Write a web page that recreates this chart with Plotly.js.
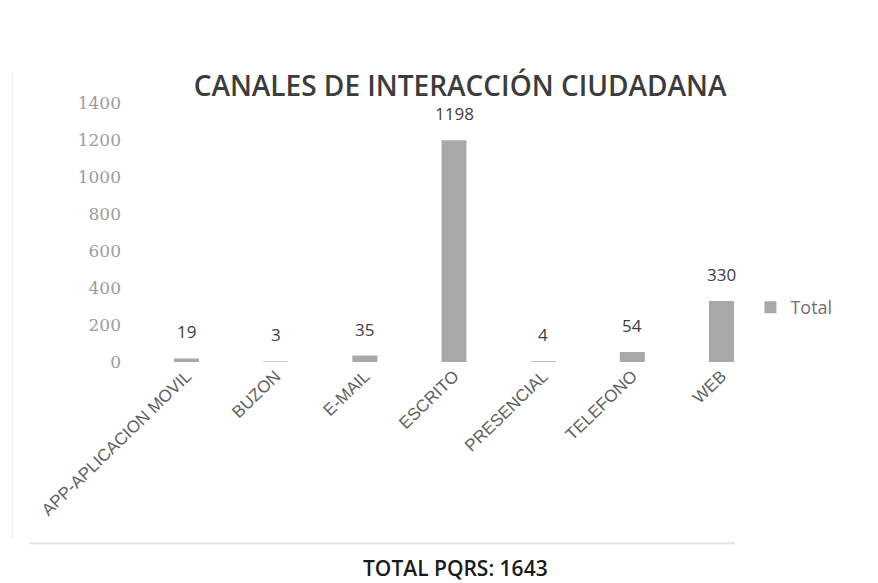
<!DOCTYPE html>
<html><head><meta charset="utf-8">
<script src="https://cdn.plot.ly/plotly-3.0.1.min.js"></script>
<style>html,body{margin:0;padding:0;background:#fff;}#chart{width:878px;height:583px;}</style>
</head><body><div id="chart"></div>
<script>
const categories = ["APP-APLICACION MOVIL","BUZON","E-MAIL","ESCRITO","PRESENCIAL","TELEFONO","WEB"];
const totals = [19, 3, 35, 1198, 4, 54, 330];
const yTicks = [0,200,400,600,800,1000,1200,1400];
const totalPqrs = 1643;

const trace = {
  type: 'bar', x: categories, y: totals, name: 'Total',
  marker: {color: '#a8a8a8'}, width: 0.28, showlegend: true
};
const labelAnns = categories.map((c,i)=>({
  x: c, y: totals[i], xref:'x', yref:'y', text: String(totals[i]), showarrow:false,
  yanchor:'bottom', yshift: 13,
  font:{family:'Open Sans, Liberation Sans, sans-serif', size:17, color:'#404040'}
}));
const layout = {
  width: 878, height: 583,
  margin: {l:142, r:112, t:103, b:221},
  paper_bgcolor:'#fff', plot_bgcolor:'#fff',
  title: {text:'CANALES DE INTERACCIÓN CIUDADANA', xref:'container', x:0.524, xanchor:'center', y:0.852, yanchor:'middle',
    font:{family:'Open Sans, Liberation Sans, sans-serif', size:28, weight:600, color:'#3c3c3c'}},
  xaxis: {type:'category', tickangle:-44, showgrid:false, showline:false, zeroline:false, ticks:'',
    tickfont:{family:'Liberation Sans, Arial, sans-serif', size:17, color:'#606060'}},
  yaxis: {range:[0,1400], tickvals:yTicks, ticktext:yTicks.map(String), showgrid:false, zeroline:false,
    showline:false, ticks:'', ticklabelstandoff: 20,
    tickfont:{family:'DejaVu Serif, Liberation Serif, serif', size:17, color:'#9c9c9c'}},
  legend: {x:0.975, xanchor:'left', y:0.21, yanchor:'middle', bgcolor:'rgba(0,0,0,0)',
    font:{family:'Open Sans, Liberation Sans, sans-serif', size:18, color:'#707070'}, itemwidth:30},
  annotations: labelAnns.concat([{
    xref:'paper', yref:'paper', x:0.503, y:-0.795, text:'TOTAL PQRS: ' + totalPqrs, showarrow:false,
    xanchor:'center', yanchor:'middle',
    font:{family:'Open Sans, Liberation Sans, sans-serif', size:21, weight:600, color:'#1a1a1a'}
  }]),
  shapes: [
    {type:'line', xref:'paper', yref:'paper', x0:-0.208, x1:-0.208, y0:1.12, y1:-0.68, line:{color:'#e8e8e8', width:1}},
    {type:'line', xref:'paper', yref:'paper', x0:-0.18, x1:0.95, y0:-0.70, y1:-0.70, line:{color:'#e4e4e4', width:2}}
  ],
  bargap: 0.7
};
Plotly.newPlot('chart', [trace], layout, {displayModeBar:false, staticPlot:true});
</script></body></html>
